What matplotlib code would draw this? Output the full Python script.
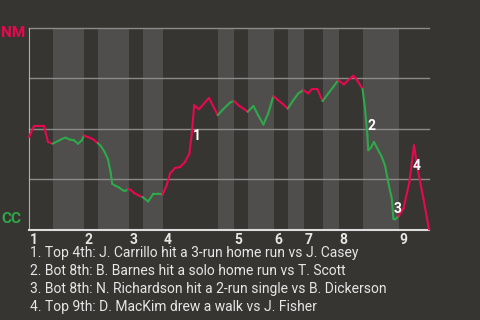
import matplotlib
matplotlib.use('Agg')
import matplotlib.pyplot as plt

plt.rcParams['font.family'] = ['Roboto', 'DejaVu Sans']

# game progress (0-100) and NM win probability after each play
progress = [0, 1.25, 3.75, 4.75, 5.9,
            7.25, 8.1, 9.1, 10.2, 11.25, 12.25, 13.25, 13.7,
            14.75, 16, 17.2,
            18, 18.9, 19.75, 20.4, 20.8, 21.4, 22.4, 23.5, 24.1, 24.75,
            25.6, 26.25, 27.4, 28.4,
            29.8, 31.1, 32.2, 33.4,
            34.4, 35.25, 36.5, 37.75, 39, 40.1, 40.7, 41.3, 42.5, 45, 47.2,
            48.3, 50.25, 51.2,
            52.6, 53.6, 54.7,
            56.1, 57.3, 58.6, 59.8, 61.1,
            62.3, 63.6, 64.7,
            66.1, 67.3, 68.6,
            69.8, 70.7, 72.1, 73.4,
            74.8, 76.1, 77.3,
            78.75, 79.8, 81.1, 82.3, 83.4,
            84, 84.6, 84.8, 85.4, 86.25, 86.9, 88.2, 89, 89.8, 90.7, 91.1, 91.5, 92.4,
            93.6, 95.1, 96.25, 97.3, 98.6, 100]
nm_wp = [.458, .514, .514, .434, .426,
         .439, .448, .456, .446, .443, .426, .443, .466,
         .459, .448, .429,
         .413, .385, .348, .285, .227, .219, .210, .194, .191, .202,
         .194, .181, .169, .161,
         .139, .178, .178, .174,
         .219, .277, .305, .310, .335, .377, .476, .617, .597, .653, .567,
         .592, .630, .638,
         .613, .600, .584,
         .613, .567, .521, .576, .662,
         .642, .620, .600,
         .642, .675, .692,
         .675, .697, .697, .637,
         .675, .708, .741,
         .720, .741, .763, .733, .697,
         .600, .468, .393, .404, .434, .409, .360, .318, .235, .153, .053, .050, .066,
         .103, .235, .418, .285, .153, 0]

# start of each half inning (top 1st, bot 1st, ...), end of game
half_starts = [0, 6, 13.75, 17.25, 25, 28.5, 33.5, 47.25, 51.25, 54.75,
               61.25, 64.75, 68.75, 73.5, 77.5, 83.5, 92.5, 100]
inning_labels = ['1', '2', '3', '4', '5', '6', '7', '8', '9']

notes = ['1. Top 4th: J. Carrillo hit a 3-run home run vs J. Casey',
         '2. Bot 8th: B. Barnes hit a solo home run vs T. Scott',
         '3. Bot 8th: N. Richardson hit a 2-run single vs B. Dickerson',
         '4. Top 9th: D. MacKim drew a walk vs J. Fisher']
note_x = [41.9, 85.7, 92.1, 96.9]
note_y = [.463, .512, .104, .315]

bg = '#373532'
band = '#504e4c'
red = '#e8084f'
green = '#2ea84a'
txt = '#e6e6e6'

fig = plt.figure(figsize=(4.8, 3.2), dpi=100, facecolor=bg)
ax = fig.add_axes([29/480, 1 - 229.5/320, 400/480, 201.5/320], facecolor=bg)

# shade bottom halves
for i in range(1, len(half_starts) - 1, 2):
    ax.axvspan(half_starts[i], half_starts[i + 1], color=band, lw=0, zorder=0)

for yv in [0.25, 0.5, 0.75, 1.0]:
    ax.axhline(yv, color='#8c8b89', lw=1, zorder=1, clip_on=False)

def half_of(u):
    for i in range(len(half_starts) - 1):
        if half_starts[i] <= u < half_starts[i + 1]:
            return i
    return len(half_starts) - 2

for k in range(len(progress) - 1):
    h = half_of(progress[k + 1])
    c = red if h % 2 == 0 else green
    ax.plot(progress[k:k + 2], nm_wp[k:k + 2], color=c, lw=1.5,
            solid_capstyle='round', zorder=3, clip_on=False)

for i, (x, y) in enumerate(zip(note_x, note_y)):
    ax.text(x, y, str(i + 1), color='white', fontsize=10, fontweight='bold',
            ha='center', va='center', zorder=4)

ax.set_xlim(0, 100)
ax.set_ylim(0, 1)
ax.set_xticks([])
ax.set_yticks([])
for s in ['top', 'right']:
    ax.spines[s].set_visible(False)
ax.spines['left'].set_color('#b0b0b0')
ax.spines['bottom'].set_color('#dcdcdc')
ax.spines['bottom'].set_linewidth(1.5)

for i, lab in enumerate(inning_labels):
    ax.text(half_starts[2 * i] + 0.2, -0.015, lab, color=txt, fontsize=10,
            fontweight='bold', ha='left', va='top')

fig.text(1.5/480, 1 - 33/320, 'NM', color=red, fontsize=11, fontweight='bold', va='center')
fig.text(1.5/480, 1 - 219/320, 'CC', color=green, fontsize=11, fontweight='bold', va='center')

for i, n in enumerate(notes):
    fig.text(30/480, 1 - (253 + 18*i)/320, n, color=txt, fontsize=10, va='center')

fig.savefig('out.png', dpi=100, facecolor=bg)
